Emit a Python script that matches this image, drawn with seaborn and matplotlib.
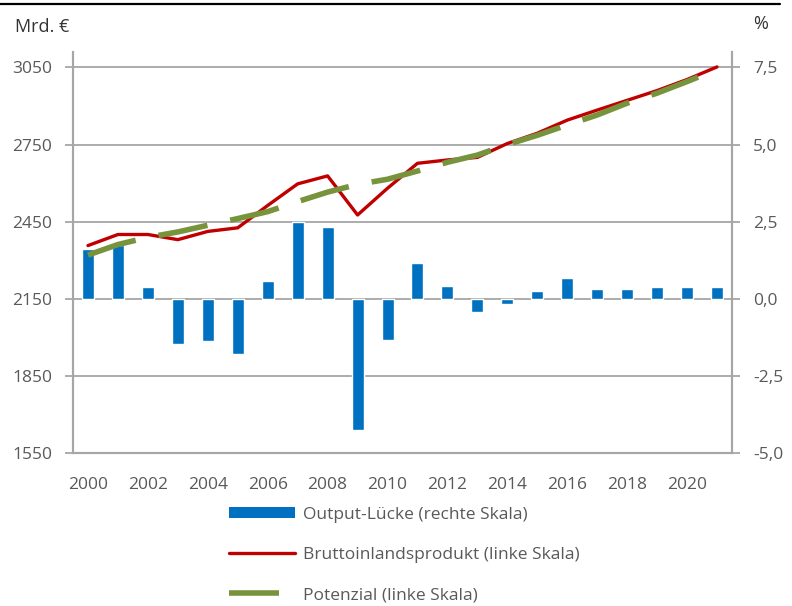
import matplotlib
matplotlib.use("Agg")
import matplotlib.pyplot as plt
import pandas as pd
import seaborn as sns
from matplotlib.lines import Line2D
from matplotlib.patches import Patch
from matplotlib.ticker import FixedLocator, FuncFormatter

# data
years = list(range(2000, 2022))
output_gap = [1.61, 1.75, 0.38, -1.46, -1.37, -1.79, 0.57, 2.50, 2.32, -4.27, -1.34,
              1.16, 0.41, -0.42, -0.16, 0.25, 0.67, 0.33, 0.33, 0.38, 0.38, 0.38]
bip = [2357, 2400, 2400, 2380, 2412, 2426, 2513, 2597, 2628, 2476, 2580,
       2677, 2690, 2700, 2754, 2794, 2845, 2884, 2922, 2960, 3003, 3052]
potenzial = [2320, 2361, 2389, 2410, 2436, 2462, 2489, 2528, 2565, 2595, 2615,
             2647, 2681, 2709, 2750, 2786, 2826, 2865, 2911, 2950, 2995, 3042]
left_ticks = [1550, 1850, 2150, 2450, 2750, 3050]
right_ticks = [-5.0, -2.5, 0.0, 2.5, 5.0, 7.5]
year_labels = [str(y) for y in years[::2]]

labels = ["Output-Lücke (rechte Skala)",
          "Bruttoinlandsprodukt (linke Skala)",
          "Potenzial (linke Skala)"]

BLUE = "#0070C0"
RED = "#C00000"
GREEN = "#77933C"
GRID = "#A6A6A6"
TXT = "#595959"
FS = 12.5

df = pd.DataFrame({"jahr": [str(y) for y in years], "pos": range(len(years)),
                   "gap": output_gap, "bip": bip, "pot": potenzial})

sns.set_style("white")
plt.rcParams["font.family"] = ["Open Sans", "DejaVu Sans"]

fig = plt.figure(figsize=(7.92, 6.06), dpi=100)
ax_l = fig.add_axes([73 / 792, 1 - 453 / 606, (732 - 73) / 792, (453 - 52) / 606])
ax_r = ax_l.twinx()

# bars on the right (percent) axis
sns.barplot(data=df, x="jahr", y="gap", color=BLUE, width=0.4, saturation=1,
            ax=ax_r, zorder=2)
ax_r.set_ylim(-5, 8)
ax_r.set_yticks(right_ticks)
ax_r.yaxis.set_major_formatter(FuncFormatter(lambda v, p: f"{v:.1f}".replace(".", ",")))
ax_r.grid(axis="y", color=GRID, lw=1.3, zorder=0)
ax_r.set_axisbelow(True)
ax_r.set_xlabel("")
ax_r.set_ylabel("")

# lines on the left (Mrd. €) axis, drawn above the bars
ax_l.set_zorder(ax_r.get_zorder() + 1)
ax_l.patch.set_visible(False)
sns.lineplot(data=df, x="pos", y="bip", color=RED, lw=2.4, ax=ax_l)
sns.lineplot(data=df, x="pos", y="pot", color=GREEN, lw=4, ax=ax_l)
ax_l.lines[-1].set_dashes((9, 4.2))
ax_l.set_ylim(1550, 3110)
ax_l.set_yticks(left_ticks)
ax_l.set_xlabel("")
ax_l.set_ylabel("")

for ax in (ax_l, ax_r):
    ax.set_xlim(-0.5, len(years) - 0.5)
    for s in ax.spines.values():
        s.set_color(GRID)
        s.set_linewidth(1.5)
    ax.spines["top"].set_visible(False)
    ax.tick_params(axis="y", length=6, width=1.3, color=GRID, labelcolor=TXT,
                   labelsize=FS, pad=9)

# x axis: ticks at the category boundaries, labels every second year
ax_l.xaxis.set_major_locator(FixedLocator([i - 0.5 for i in range(len(years) + 1)]))
ax_l.xaxis.set_minor_locator(FixedLocator(list(range(0, len(years), 2))))
ax_l.set_xticklabels([], minor=False)
ax_l.set_xticklabels(year_labels, minor=True)
ax_l.tick_params(axis="x", which="major", length=6, width=1.3, color=GRID)
ax_l.tick_params(axis="x", which="minor", length=0, labelcolor=TXT, labelsize=FS, pad=17)
ax_r.tick_params(axis="x", bottom=False, labelbottom=False)

fig.text(15 / 792, 1 - 27 / 606, "Mrd. €", fontsize=13, color="#333333", va="center")
fig.text(753 / 792, 1 - 24 / 606, "%", fontsize=13, color="#333333", va="center")

# top border line
fig.add_artist(Line2D([0, 0.985], [1 - 3.5 / 606] * 2, color="black", lw=1.6,
                      transform=fig.transFigure))

handles = [Patch(facecolor=BLUE, edgecolor="none"),
           Line2D([], [], color=RED, lw=2.4),
           Line2D([], [], color=GREEN, lw=4, dashes=(9, 4.2))]
fig.legend(handles, labels, loc="upper left", bbox_to_anchor=(213 / 792, 1 - 491 / 606),
           frameon=False, fontsize=FS, labelcolor=TXT, handlelength=3.85,
           handleheight=0.6, handletextpad=0.46, labelspacing=1.4)

fig.savefig("out.png", dpi=100)
